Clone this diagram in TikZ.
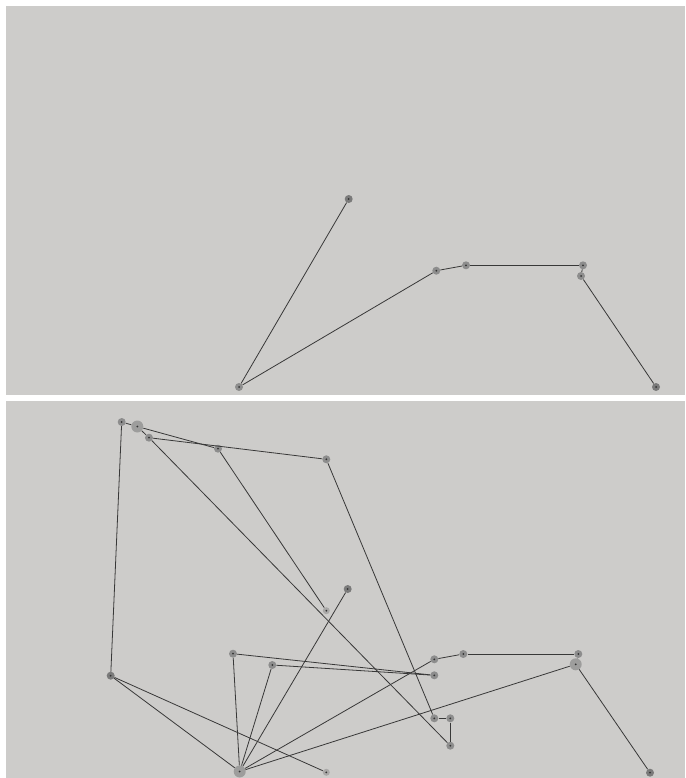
\documentclass[tikz,border=0pt]{standalone}
\usepackage{tikz}
\definecolor{panel}{HTML}{CDCCCA}
\definecolor{wire}{HTML}{383838}
\definecolor{blob}{HTML}{7E7E7E}

\begin{document}
\begin{tikzpicture}[
  x=1pt,y=-1pt,
  dot/.style={circle,inner sep=0pt,minimum size=8pt,fill=blob,fill opacity=0.8,
    path picture={\fill[black!80,fill opacity=1] (path picture bounding box.center) circle (1pt);}},
  bigdot/.style={dot,minimum size=12pt,fill opacity=0.6},
  darkdot/.style={dot,fill=black!60},
  faintdot/.style={dot,minimum size=7pt,fill opacity=0.45},
  edge/.style={draw=wire,line width=0.8pt}
]
\useasboundingbox (0,0) rectangle (685,778);
\fill[white] (0,0) rectangle (685,778);
\fill[panel] (6,6) rectangle (685,395);
\fill[panel] (6,401) rectangle (685,778);

% upper panel
\node[darkdot] (ua) at (348.7,199) {};
\node[dot] (ub) at (239,387) {};
\node[dot] (uc) at (436.3,270.7) {};
\node[dot] (ud) at (466,265.3) {};
\node[dot] (ue) at (583,265.3) {};
\node[dot] (uf) at (581,276) {};
\node[darkdot] (ug) at (656,387) {};
\draw[edge] (ua) -- (ub);
\draw[edge] (ub) -- (uc);
\draw[edge] (uc) -- (ud);
\draw[edge] (ud) -- (ue);
\draw[edge] (ue) -- (uf);
\draw[edge] (uf) -- (ug);

% lower panel
\node[dot] (l1) at (121.7,422) {};
\node[bigdot] (l2) at (137.3,426.5) {};
\node[dot] (l3) at (149,437.7) {};
\node[dot] (l4) at (218,448.7) {};
\node[dot] (l5) at (326.3,459.3) {};
\node[faintdot] (l6) at (326.3,610.7) {};
\node[darkdot] (l7) at (347.7,589) {};
\node[darkdot] (l8) at (110.7,675.7) {};
\node[dot] (l9) at (233,653.7) {};
\node[dot] (l10) at (272.3,665) {};
\node[bigdot] (l11) at (239.7,771.5) {};
\node[faintdot] (l12) at (326.3,772.3) {};
\node[dot] (l13) at (434.3,659.3) {};
\node[dot] (l14) at (463.3,654) {};
\node[dot] (l15) at (578.3,654) {};
\node[bigdot] (l16) at (575.7,664.3) {};
\node[darkdot] (l17) at (650,772.7) {};
\node[dot] (l18) at (434.3,675.3) {};
\node[dot] (l19) at (434.3,718.3) {};
\node[dot] (l20) at (450.3,718.3) {};
\node[dot] (l21) at (450.3,745.7) {};
\foreach \a/\b in {l1/l8,l1/l2,l2/l4,l2/l3,l3/l5,l3/l21,l4/l6,l5/l19,l19/l20,l20/l21,
  l8/l11,l8/l12,l9/l11,l9/l18,l10/l11,l10/l18,l7/l11,l11/l13,l13/l14,l14/l15,
  l15/l16,l16/l17,l11/l16}
  \draw[edge] (\a) -- (\b);
\end{tikzpicture}
\end{document}
